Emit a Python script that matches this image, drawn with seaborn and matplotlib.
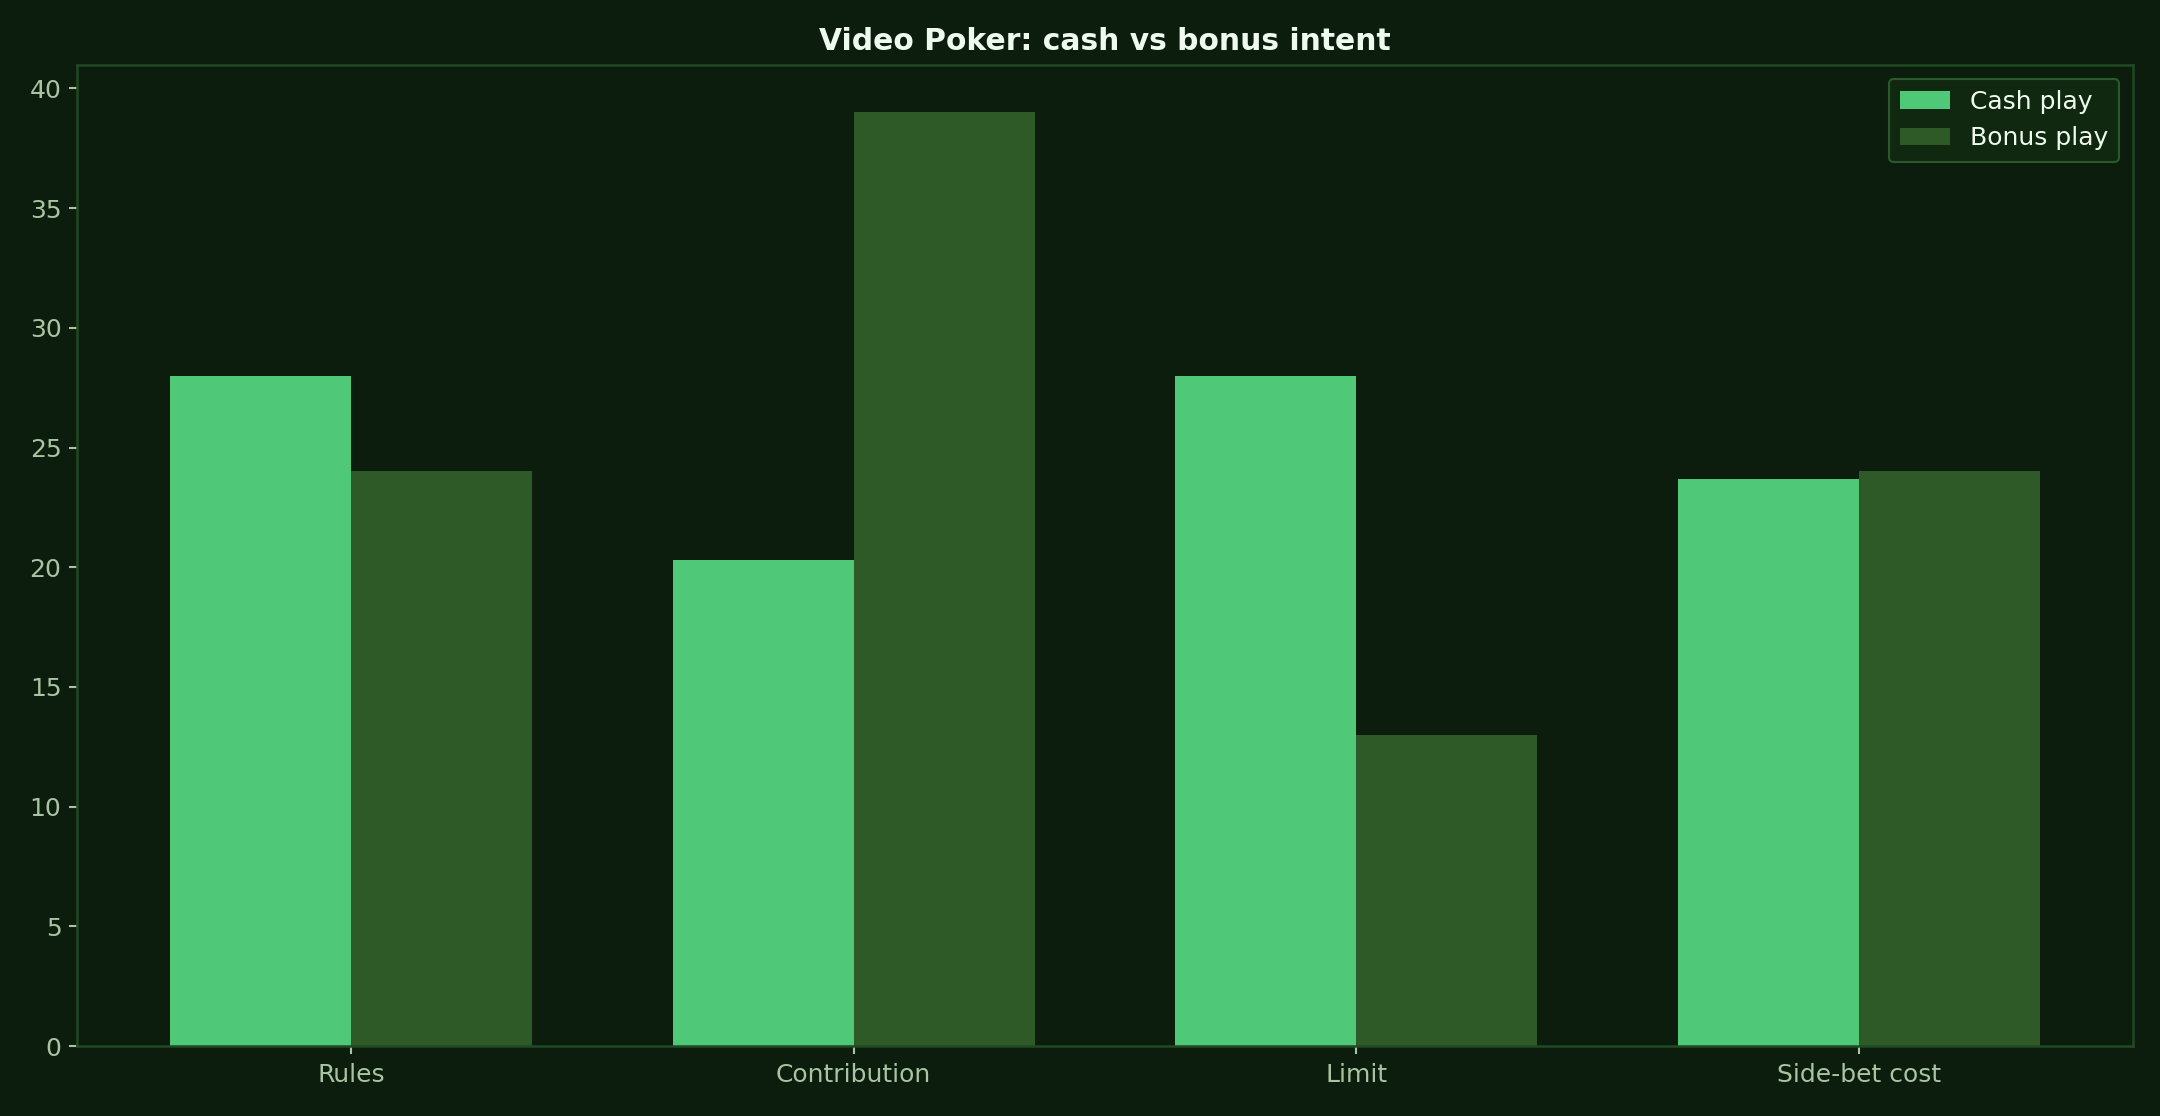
import matplotlib
matplotlib.use("Agg")
import matplotlib.pyplot as plt
import seaborn as sns
import pandas as pd

categories = ["Rules", "Contribution", "Limit", "Side-bet cost"]
series_names = ["Cash play", "Bonus play"]
cash_values = [28.0, 20.3, 28.0, 23.7]
bonus_values = [24.0, 39.0, 13.0, 24.0]
y_ticks = [0, 5, 10, 15, 20, 25, 30, 35, 40]

BG = "#0c1d0e"
CASH = "#4fc978"
BONUS = "#2e5a28"
EDGE = "#1f4a22"
TICK = "#a8c4a0"
TITLE = "#eefaee"

df = pd.DataFrame({
    "category": categories * 2,
    "value": cash_values + bonus_values,
    "series": [series_names[0]] * len(categories) + [series_names[1]] * len(categories),
})

sns.set_theme(style="dark")
plt.rcParams["font.family"] = ["DejaVu Sans"]

fig = plt.figure(figsize=(14.4, 7.44), dpi=150, facecolor=BG)
ax = fig.add_axes([0.0357, 0.0627, 0.9518, 0.8791])
ax.set_facecolor(BG)

sns.barplot(data=df, x="category", y="value", hue="series", order=categories,
            hue_order=series_names, palette=[CASH, BONUS], width=0.72,
            saturation=1, ax=ax, linewidth=0)

ax.set_xlim(-0.545, 3.545)
ax.set_ylim(0, 40.98)
ax.set_yticks(y_ticks)
ax.set_xlabel("")
ax.set_ylabel("")
ax.grid(False)
for s in ax.spines.values():
    s.set_color(EDGE)
    s.set_linewidth(1.2)
    s.set_visible(True)
ax.tick_params(axis="both", colors=TICK, labelsize=12, length=4, width=1,
               bottom=True, left=True, direction="out")
ax.tick_params(axis="x", pad=4)
ax.set_title("Video Poker: cash vs bonus intent", color=TITLE, fontsize=14.3,
             fontweight="bold", pad=7)

leg = ax.legend(loc="upper right", fontsize=12, frameon=True, facecolor="#10280f",
                edgecolor="#2a5a2c", labelcolor=TITLE, borderaxespad=0.55,
                borderpad=0.45)
leg.get_frame().set_alpha(1)

fig.savefig("out.png", dpi=150, facecolor=BG)
